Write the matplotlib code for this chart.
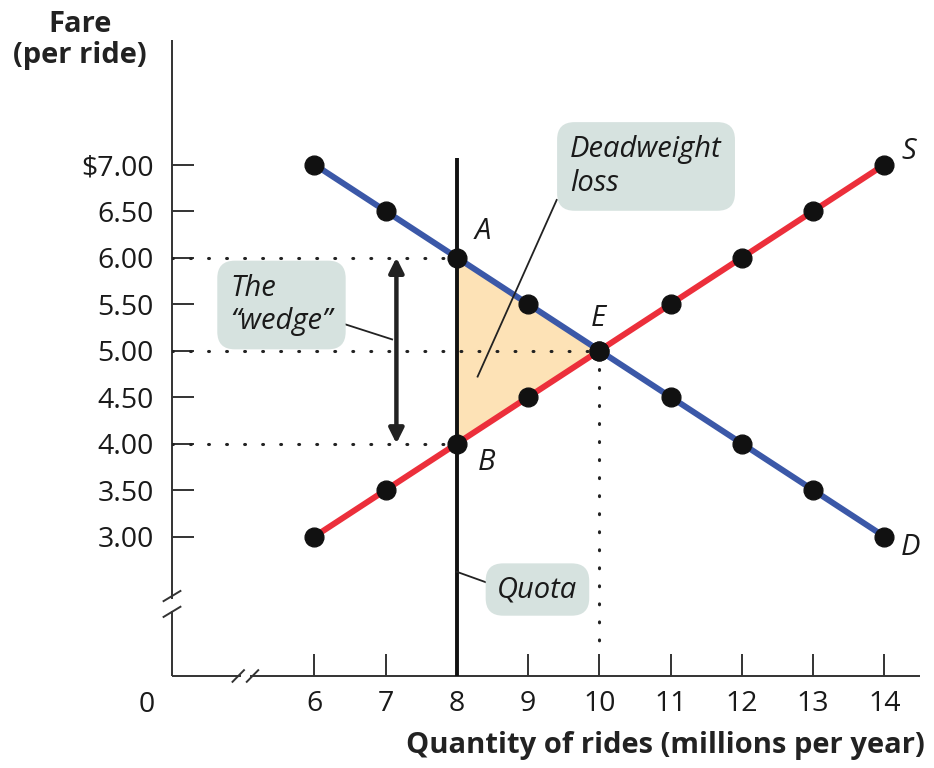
import matplotlib.pyplot as plt
import numpy as np
from matplotlib.patches import Polygon

plt.rcParams['font.family'] = ['Open Sans', 'DejaVu Sans']

# ----------------------------------------------------------------------------#
# demand / supply schedules for rides
quantity = [6, 7, 8, 9, 10, 11, 12, 13, 14]
demand_fare = [7.00, 6.50, 6.00, 5.50, 5.00, 4.50, 4.00, 3.50, 3.00]
supply_fare = [3.00, 3.50, 4.00, 4.50, 5.00, 5.50, 6.00, 6.50, 7.00]

fare_ticks = [3.00, 3.50, 4.00, 4.50, 5.00, 5.50, 6.00, 6.50, 7.00]
fare_labels = ['3.00', '3.50', '4.00', '4.50', '5.00', '5.50', '6.00', '6.50', '$7.00']

quota_q = 8
equil_q, equil_p = 10, 5.00
demand_price_at_quota = 6.00
supply_price_at_quota = 4.00

BLUE = '#3b58a8'
RED = '#ec2f3b'
FILL = '#fde2b6'
BOX = '#d6e2df'
INK = '#1a1a1a'

# ----------------------------------------------------------------------------#
fig = plt.figure(figsize=(9.34, 7.68), dpi=100)
ax = fig.add_axes([172 / 934, 92 / 768, 748 / 934, 636 / 768])
ax.set_xlim(4, 14.5)
ax.set_ylim(1.5, 8.34)
for sp in ax.spines.values():
    sp.set_visible(False)

# axis lines drawn by hand so the breaks can be shown
axkw = dict(color='#333333', lw=1.4, clip_on=False, solid_capstyle='butt')
ax.plot([4, 4], [2.33, 8.34], **axkw)
ax.plot([4, 4], [1.5, 2.2], **axkw)
ax.plot([4, 4.97], [1.5, 1.5], **axkw)
ax.plot([5.09, 14.5], [1.5, 1.5], **axkw)
for yb in (2.36, 2.19):
    ax.plot([3.87, 4.13], [yb - 0.06, yb + 0.06], **axkw)
for xb in (4.93, 5.13):
    ax.plot([xb - 0.09, xb + 0.09], [1.43, 1.57], **axkw)

ax.set_xticks(quantity)
ax.set_xticklabels([str(q) for q in quantity])
ax.set_yticks(fare_ticks)
ax.set_yticklabels(fare_labels)
ax.tick_params(direction='in', length=16, width=1.4, color='#333333',
               labelsize=20.5, labelcolor=INK)
ax.tick_params(axis='y', pad=13)
ax.tick_params(axis='x', pad=10)
ax.text(3.64, 1.5 - 0.16, '0', ha='center', va='top', fontsize=20.5, color=INK)

# deadweight loss triangle
tri = Polygon([[quota_q, demand_price_at_quota], [equil_q, equil_p],
               [quota_q, supply_price_at_quota]], closed=True,
              facecolor=FILL, edgecolor='none', zorder=1)
ax.add_patch(tri)

# dotted guide lines
dot = dict(color='#222222', lw=2.2, ls=(0, (0.3, 5.6)),
           dash_capstyle='round', zorder=2)
ax.plot([4, quota_q], [demand_price_at_quota] * 2, **dot)
ax.plot([4, equil_q], [equil_p] * 2, **dot)
ax.plot([4, quota_q], [supply_price_at_quota] * 2, **dot)
ax.plot([equil_q] * 2, [equil_p, 1.85], **dot)

# quota line
ax.plot([quota_q, quota_q], [1.5, 7.07], color='#111111', lw=2.8,
        solid_capstyle='butt', zorder=3, clip_on=False)

# demand and supply curves
ax.plot(quantity, demand_fare, color=BLUE, lw=4.3, zorder=4)
ax.plot(quantity, supply_fare, color=RED, lw=4.3, zorder=4)
ax.plot(quantity, demand_fare, 'o', color='#111111', ms=13.5, zorder=5)
ax.plot(quantity, supply_fare, 'o', color='#111111', ms=13.5, zorder=5)

# the wedge arrow
ax.annotate('', xy=(7.15, demand_price_at_quota), xytext=(7.15, supply_price_at_quota),
            arrowprops=dict(arrowstyle='<|-|>', color='#222222', lw=3.2,
                            mutation_scale=22, shrinkA=0, shrinkB=0))

# point labels
lab = dict(fontsize=21, style='italic', color=INK, ha='center', va='center')
ax.text(8.37, 6.28, 'A', **lab)
ax.text(9.99, 5.35, 'E', **lab)
ax.text(8.41, 3.80, 'B', **lab)
ax.text(14.34, 7.14, 'S', **lab)
ax.text(14.37, 2.88, 'D', **lab)

# callout boxes and leaders (leaders start behind the boxes)
box = dict(boxstyle='round,pad=0.45,rounding_size=0.6', fc=BOX, ec='none')
ax.plot([6.40, 7.09], [5.29, 5.12], color='#222222', lw=1.3, zorder=6)
ax.text(4.82, 5.49, 'The\n\u201cwedge\u201d', fontsize=21, style='italic',
        ha='left', va='center', linespacing=1.2, color=INK, bbox=box, zorder=7)

ax.plot([9.40, 8.29], [6.62, 4.72], color='#222222', lw=1.3, zorder=6)
ax.text(9.59, 6.98, 'Deadweight\nloss', fontsize=21, style='italic',
        ha='left', va='center', linespacing=1.2, color=INK, bbox=box, zorder=7)

ax.plot([8.0, 8.40], [2.62, 2.51], color='#222222', lw=1.3, zorder=6)
ax.text(9.13, 2.43, 'Quota', fontsize=21, style='italic',
        ha='center', va='center', color=INK,
        bbox=dict(boxstyle='round,pad=0.4,rounding_size=0.6', fc=BOX, ec='none'),
        zorder=7)

# axis titles
fig.text(80 / 934, 1 - 40 / 768, 'Fare\n(per ride)', fontsize=21, fontweight='bold',
         ha='center', va='center', linespacing=1.1, color='#222222')
fig.text(925 / 934, 1 - 745 / 768, 'Quantity of rides (millions per year)',
         fontsize=21, fontweight='bold', ha='right', va='center', color='#222222')

fig.savefig('out.png', dpi=100, facecolor='white')
